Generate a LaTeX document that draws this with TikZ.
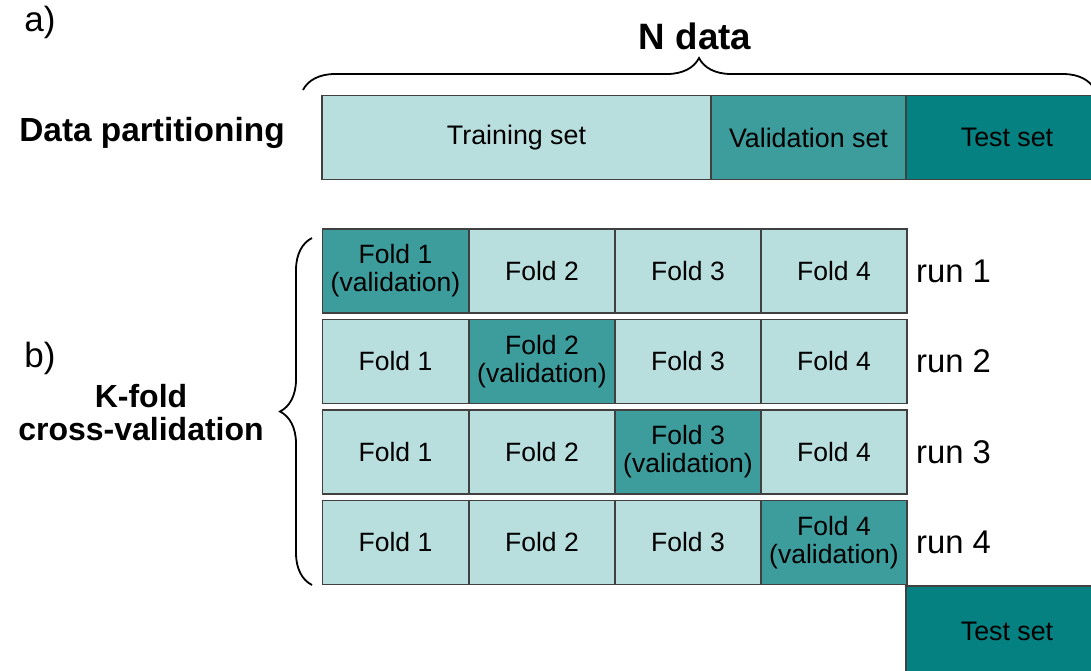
\documentclass[tikz,border=0pt]{standalone}
\usepackage{fontspec}
\setmainfont{Liberation Sans}
\usetikzlibrary{decorations.pathreplacing}
\definecolor{lightteal}{HTML}{B9DEDE}
\definecolor{midteal}{HTML}{3D9C9C}
\definecolor{darkteal}{HTML}{068181}
\tikzset{
  part/.style={draw=black!75,line width=1.2pt,inner sep=0pt,outer sep=0pt,minimum height=84pt,align=center,font=\fontsize{26.8}{28}\selectfont},
  fold/.style={part,fill=lightteal,minimum width=146pt,font=\fontsize{26.5}{28}\selectfont},
  valfold/.style={fold,fill=midteal},
  runlabel/.style={anchor=west,inner sep=0pt,font=\fontsize{32.8}{34}\selectfont},
  heading/.style={inner sep=0pt,align=center,font=\bfseries\fontsize{32}{33}\selectfont},
  tag/.style={inner sep=0pt,font=\fontsize{35}{37}\selectfont},
  bracepath/.style={decorate,decoration={brace,amplitude=32pt},line width=1.8pt}
}
\begin{document}
\begin{tikzpicture}[x=1pt,y=-1pt]
\useasboundingbox (0,0) rectangle (1091,670);

% a) data partitioning
\node[tag] (tagA) at (40,22) {a)};
\node[heading,font=\bfseries\fontsize{36.7}{38}\selectfont] (ndata) at (695,36) {N data};
\node[heading,font=\bfseries\fontsize{33.4}{35}\selectfont] (dpart) at (152,133) {Data partitioning};
\node[part,fill=lightteal,minimum width=389pt] (train) at (516.5,137.5) {Training set};
\node[part,fill=midteal,minimum width=195pt] (valid) at (808.5,137.5) {Validation set};
\node[part,fill=darkteal,minimum width=202pt] (test) at (1007,137.5) {Test set};
\coordinate (braceL) at (303,90);
\coordinate (braceR) at (1095,90);
\draw[bracepath] (braceL) -- (braceR);

% b) k-fold cross-validation
\node[tag] (tagB) at (40,358) {b)};
\node[heading] (kfold) at (141,413) {K-fold\\cross-validation};
\coordinate (kbraceB) at (312,585);
\coordinate (kbraceT) at (312,238);
\draw[bracepath] (kbraceB) -- (kbraceT);

\begin{scope}[shift={(0,271)}]
\node[valfold] (r1f1) at (395.5,0) {Fold 1\\(validation)};
\node[fold]    (r1f2) at (542,0)   {Fold 2};
\node[fold]    (r1f3) at (688,0)   {Fold 3};
\node[fold]    (r1f4) at (834,0)   {Fold 4};
\node[runlabel] (run1) at (916,0)  {run 1};
\end{scope}

\begin{scope}[shift={(0,361.5)}]
\node[fold]    (r2f1) at (395.5,0) {Fold 1};
\node[valfold] (r2f2) at (542,0)   {Fold 2\\(validation)};
\node[fold]    (r2f3) at (688,0)   {Fold 3};
\node[fold]    (r2f4) at (834,0)   {Fold 4};
\node[runlabel] (run2) at (916,0)  {run 2};
\end{scope}

\begin{scope}[shift={(0,452)}]
\node[fold]    (r3f1) at (395.5,0) {Fold 1};
\node[fold]    (r3f2) at (542,0)   {Fold 2};
\node[valfold] (r3f3) at (688,0)   {Fold 3\\(validation)};
\node[fold]    (r3f4) at (834,0)   {Fold 4};
\node[runlabel] (run3) at (916,0)  {run 3};
\end{scope}

\begin{scope}[shift={(0,542.5)}]
\node[fold]    (r4f1) at (395.5,0) {Fold 1};
\node[fold]    (r4f2) at (542,0)   {Fold 2};
\node[fold]    (r4f3) at (688,0)   {Fold 3};
\node[valfold] (r4f4) at (834,0)   {Fold 4\\(validation)};
\node[runlabel] (run4) at (916,0)  {run 4};
\end{scope}

\node[part,fill=darkteal,minimum width=202pt,minimum height=90pt] (test2) at (1007,631) {Test set};
\end{tikzpicture}
\end{document}
